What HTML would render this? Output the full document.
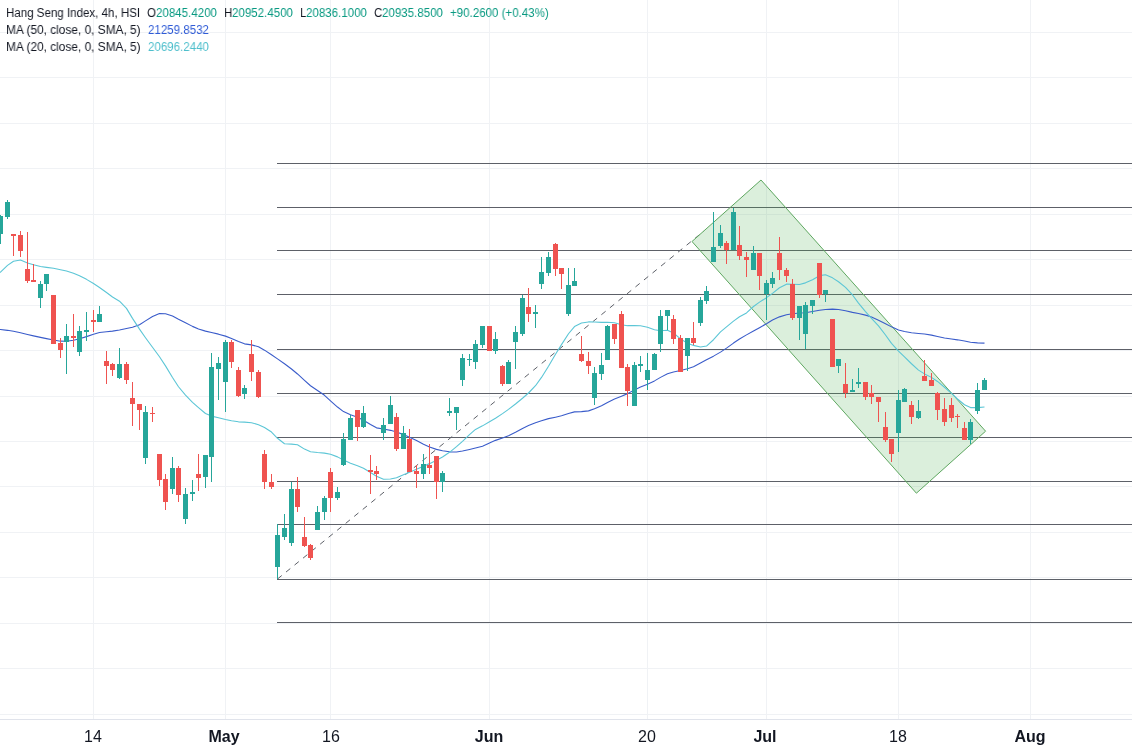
<!DOCTYPE html>
<html><head><meta charset="utf-8">
<style>
html,body{margin:0;padding:0;background:#fff;width:1132px;height:754px;overflow:hidden;position:relative;}
#c{position:absolute;left:0;top:0;}
.t{position:absolute;font-family:"Liberation Sans",sans-serif;white-space:pre;line-height:1;will-change:transform;}
.h{font-size:12.5px;transform:scaleX(0.923);transform-origin:0 0;}
.ax{font-size:16px;color:#131722;top:729px;transform:translateX(-50%) scaleY(1.0);transform-origin:50% 100%;}
</style></head><body>
<svg id="c" width="1132" height="754">
<g shape-rendering="crispEdges">
<rect x="0" y="32" width="1132" height="1" fill="#f0f2f5"/>
<rect x="0" y="77" width="1132" height="1" fill="#f0f2f5"/>
<rect x="0" y="123" width="1132" height="1" fill="#f0f2f5"/>
<rect x="0" y="168" width="1132" height="1" fill="#f0f2f5"/>
<rect x="0" y="214" width="1132" height="1" fill="#f0f2f5"/>
<rect x="0" y="259" width="1132" height="1" fill="#f0f2f5"/>
<rect x="0" y="305" width="1132" height="1" fill="#f0f2f5"/>
<rect x="0" y="350" width="1132" height="1" fill="#f0f2f5"/>
<rect x="0" y="396" width="1132" height="1" fill="#f0f2f5"/>
<rect x="0" y="441" width="1132" height="1" fill="#f0f2f5"/>
<rect x="0" y="486" width="1132" height="1" fill="#f0f2f5"/>
<rect x="0" y="532" width="1132" height="1" fill="#f0f2f5"/>
<rect x="0" y="577" width="1132" height="1" fill="#f0f2f5"/>
<rect x="0" y="623" width="1132" height="1" fill="#f0f2f5"/>
<rect x="0" y="668" width="1132" height="1" fill="#f0f2f5"/>
<rect x="0" y="714" width="1132" height="1" fill="#f0f2f5"/>
<rect x="93" y="0" width="1" height="719" fill="#f0f2f5"/>
<rect x="225" y="0" width="1" height="719" fill="#f0f2f5"/>
<rect x="330" y="0" width="1" height="719" fill="#f0f2f5"/>
<rect x="489" y="0" width="1" height="719" fill="#f0f2f5"/>
<rect x="647" y="0" width="1" height="719" fill="#f0f2f5"/>
<rect x="766" y="0" width="1" height="719" fill="#f0f2f5"/>
<rect x="898" y="0" width="1" height="719" fill="#f0f2f5"/>
<rect x="1030" y="0" width="1" height="719" fill="#f0f2f5"/>
</g>
<g shape-rendering="crispEdges">
<rect x="277" y="163" width="855" height="1" fill="#5d6068"/>
<rect x="277" y="207" width="855" height="1" fill="#5d6068"/>
<rect x="277" y="250" width="855" height="1" fill="#5d6068"/>
<rect x="277" y="294" width="855" height="1" fill="#5d6068"/>
<rect x="277" y="349" width="855" height="1" fill="#5d6068"/>
<rect x="277" y="393" width="855" height="1" fill="#5d6068"/>
<rect x="277" y="437" width="855" height="1" fill="#5d6068"/>
<rect x="277" y="481" width="855" height="1" fill="#5d6068"/>
<rect x="277" y="524" width="855" height="1" fill="#5d6068"/>
<rect x="277" y="579" width="855" height="1" fill="#5d6068"/>
<rect x="277" y="622" width="855" height="1" fill="#5d6068"/>
<rect x="277" y="524" width="1" height="55" fill="#5d6068"/>
</g>
<line x1="277.5" y1="579" x2="704" y2="231" stroke="#5d6068" stroke-width="1" stroke-dasharray="5.5 5.5"/>
<polygon points="761,180 692,241.5 916.4,493.2 985.6,431.2" fill="rgba(76,175,80,0.2)" stroke="#5ea760" stroke-width="1"/>
<polyline fill="none" stroke="#3a5cca" stroke-width="1.1" stroke-linejoin="round" points="0.0,329.50 0.5,329.56 7.5,330.33 13.5,331.25 20.5,332.80 27.5,334.51 33.5,335.87 40.5,337.39 46.5,338.63 53.5,339.98 60.5,341.17 66.5,341.32 73.5,340.27 79.5,338.80 86.5,336.64 93.5,334.32 99.5,332.51 106.5,331.79 112.5,331.13 119.5,329.92 126.5,328.49 132.5,327.23 139.5,324.68 145.5,320.85 152.5,316.56 159.5,313.52 165.5,313.77 172.5,315.99 178.5,319.22 185.5,322.74 192.5,326.37 198.5,328.93 205.5,331.14 211.5,332.59 218.5,334.16 225.5,336.13 231.5,338.49 238.5,341.55 244.5,343.84 251.5,344.90 258.5,346.73 264.5,350.15 271.5,354.76 277.5,358.85 284.5,363.75 291.5,368.96 297.5,373.96 304.5,380.31 310.5,385.74 317.5,390.53 324.5,395.30 330.5,400.82 337.5,407.06 343.5,411.60 350.5,414.81 357.5,417.15 363.5,420.28 370.5,424.49 376.5,427.85 383.5,428.93 390.5,430.34 396.5,432.08 403.5,434.61 409.5,437.18 416.5,440.55 423.5,444.22 429.5,446.97 436.5,449.36 442.5,450.78 449.5,451.83 456.5,452.01 462.5,451.05 469.5,449.44 475.5,447.95 482.5,446.21 489.5,443.04 495.5,440.36 502.5,437.90 508.5,435.76 515.5,432.33 522.5,428.46 528.5,425.43 535.5,422.65 541.5,420.67 548.5,418.61 555.5,417.17 561.5,415.83 568.5,413.49 574.5,411.90 581.5,411.64 588.5,410.86 594.5,408.78 601.5,405.73 607.5,402.54 614.5,398.98 621.5,396.17 627.5,393.63 634.5,390.10 640.5,387.10 647.5,384.17 654.5,380.90 660.5,377.37 667.5,373.73 673.5,372.01 680.5,370.50 687.5,368.81 693.5,366.68 700.5,363.08 706.5,359.85 713.5,356.14 720.5,352.14 726.5,348.16 733.5,343.07 739.5,338.98 746.5,334.88 753.5,331.04 759.5,327.67 766.5,323.69 772.5,320.00 779.5,316.85 786.5,314.82 792.5,313.78 799.5,313.04 805.5,312.79 812.5,311.57 819.5,310.29 825.5,309.48 832.5,309.16 838.5,309.44 845.5,310.73 852.5,312.36 858.5,313.46 865.5,315.14 871.5,317.06 878.5,320.30 885.5,323.79 891.5,326.87 898.5,329.91 904.5,331.58 911.5,332.76 918.5,333.47 924.5,334.04 931.5,335.12 937.5,336.55 944.5,338.06 951.5,339.06 957.5,339.83 964.5,340.97 970.5,342.27 977.5,342.86 984.5,343.15"/>
<polyline fill="none" stroke="#5cc6d6" stroke-width="1.1" stroke-linejoin="round" points="0.0,272.60 0.5,272.10 7.5,265.38 13.5,261.20 20.5,260.00 27.5,262.93 33.5,264.75 40.5,266.44 46.5,267.36 53.5,268.31 60.5,269.67 66.5,271.07 73.5,273.23 79.5,275.73 86.5,279.36 93.5,283.55 99.5,287.46 106.5,292.48 112.5,296.99 119.5,301.22 126.5,308.40 132.5,318.36 139.5,329.16 145.5,337.73 152.5,347.30 159.5,356.75 165.5,365.86 172.5,377.45 178.5,386.75 185.5,395.10 192.5,402.40 198.5,407.60 205.5,413.47 211.5,416.10 218.5,417.71 225.5,419.47 231.5,420.80 238.5,421.83 244.5,422.12 251.5,422.72 258.5,424.70 264.5,427.54 271.5,432.07 277.5,438.27 284.5,443.77 291.5,444.15 297.5,444.75 304.5,449.10 310.5,451.80 317.5,452.56 324.5,453.10 330.5,454.33 337.5,456.88 343.5,460.04 350.5,463.16 357.5,465.75 363.5,468.34 370.5,472.41 376.5,476.17 383.5,479.24 390.5,479.06 396.5,477.69 403.5,474.79 409.5,472.22 416.5,469.22 423.5,466.18 429.5,463.63 436.5,460.30 442.5,456.93 449.5,452.32 456.5,446.68 462.5,441.29 469.5,434.64 475.5,429.43 482.5,425.86 489.5,421.85 495.5,418.25 502.5,413.63 508.5,409.35 515.5,404.00 522.5,398.24 528.5,393.00 535.5,385.74 541.5,377.43 548.5,366.25 555.5,354.33 561.5,344.66 568.5,333.73 574.5,326.53 581.5,323.00 588.5,321.92 594.5,321.98 601.5,322.40 607.5,322.21 614.5,322.68 621.5,324.75 627.5,325.67 634.5,325.43 640.5,325.69 647.5,327.17 654.5,329.72 660.5,330.79 667.5,330.24 673.5,333.04 680.5,338.88 687.5,343.18 693.5,345.40 700.5,347.03 706.5,346.07 713.5,339.72 720.5,331.94 726.5,326.91 733.5,321.17 739.5,316.80 746.5,312.95 753.5,306.53 759.5,302.14 766.5,297.67 772.5,293.35 779.5,287.78 786.5,284.16 792.5,284.24 799.5,284.55 805.5,282.87 812.5,279.65 819.5,275.65 825.5,274.79 832.5,277.87 838.5,281.74 845.5,287.44 852.5,294.97 858.5,303.06 865.5,311.58 871.5,318.42 878.5,325.86 885.5,334.97 891.5,343.33 898.5,351.13 904.5,356.80 911.5,363.76 918.5,370.11 924.5,373.91 931.5,377.38 937.5,381.44 944.5,387.22 951.5,393.36 957.5,399.01 964.5,404.72 970.5,407.58 977.5,407.62 984.5,407.00"/>
<g shape-rendering="crispEdges">
<rect x="0" y="215" width="1" height="29" fill="#26a69a"/>
<rect x="-2" y="216" width="5" height="18" fill="#26a69a"/>
<rect x="7" y="200" width="1" height="19" fill="#26a69a"/>
<rect x="5" y="202" width="5" height="15" fill="#26a69a"/>
<rect x="13" y="234" width="1" height="22" fill="#ef5350"/>
<rect x="11" y="234" width="5" height="2" fill="#ef5350"/>
<rect x="20" y="231" width="1" height="26" fill="#ef5350"/>
<rect x="18" y="235" width="5" height="16" fill="#ef5350"/>
<rect x="27" y="232" width="1" height="51" fill="#ef5350"/>
<rect x="25" y="269" width="5" height="12" fill="#ef5350"/>
<rect x="33" y="264" width="1" height="18" fill="#ef5350"/>
<rect x="31" y="280" width="5" height="2" fill="#ef5350"/>
<rect x="40" y="281" width="1" height="27" fill="#26a69a"/>
<rect x="38" y="284" width="5" height="14" fill="#26a69a"/>
<rect x="46" y="274" width="1" height="17" fill="#26a69a"/>
<rect x="44" y="274" width="5" height="10" fill="#26a69a"/>
<rect x="53" y="295" width="1" height="49" fill="#ef5350"/>
<rect x="51" y="295" width="5" height="49" fill="#ef5350"/>
<rect x="60" y="338" width="1" height="20" fill="#ef5350"/>
<rect x="58" y="343" width="5" height="7" fill="#ef5350"/>
<rect x="66" y="324" width="1" height="50" fill="#26a69a"/>
<rect x="64" y="336" width="5" height="6" fill="#26a69a"/>
<rect x="73" y="314" width="1" height="33" fill="#ef5350"/>
<rect x="71" y="336" width="5" height="2" fill="#ef5350"/>
<rect x="79" y="326" width="1" height="30" fill="#26a69a"/>
<rect x="77" y="331" width="5" height="21" fill="#26a69a"/>
<rect x="86" y="312" width="1" height="29" fill="#26a69a"/>
<rect x="84" y="330" width="5" height="2" fill="#26a69a"/>
<rect x="93" y="310" width="1" height="22" fill="#ef5350"/>
<rect x="91" y="320" width="5" height="2" fill="#ef5350"/>
<rect x="99" y="306" width="1" height="16" fill="#26a69a"/>
<rect x="97" y="314" width="5" height="8" fill="#26a69a"/>
<rect x="106" y="351" width="1" height="33" fill="#ef5350"/>
<rect x="104" y="361" width="5" height="5" fill="#ef5350"/>
<rect x="112" y="363" width="1" height="13" fill="#ef5350"/>
<rect x="110" y="364" width="5" height="6" fill="#ef5350"/>
<rect x="119" y="348" width="1" height="31" fill="#26a69a"/>
<rect x="117" y="364" width="5" height="14" fill="#26a69a"/>
<rect x="126" y="362" width="1" height="22" fill="#ef5350"/>
<rect x="124" y="364" width="5" height="16" fill="#ef5350"/>
<rect x="132" y="382" width="1" height="44" fill="#ef5350"/>
<rect x="130" y="398" width="5" height="6" fill="#ef5350"/>
<rect x="139" y="404" width="1" height="26" fill="#ef5350"/>
<rect x="137" y="404" width="5" height="6" fill="#ef5350"/>
<rect x="145" y="406" width="1" height="58" fill="#26a69a"/>
<rect x="143" y="412" width="5" height="46" fill="#26a69a"/>
<rect x="152" y="407" width="1" height="15" fill="#ef5350"/>
<rect x="150" y="413" width="5" height="1" fill="#ef5350"/>
<rect x="159" y="454" width="1" height="32" fill="#ef5350"/>
<rect x="157" y="454" width="5" height="26" fill="#ef5350"/>
<rect x="165" y="474" width="1" height="36" fill="#ef5350"/>
<rect x="163" y="479" width="5" height="23" fill="#ef5350"/>
<rect x="172" y="457" width="1" height="37" fill="#26a69a"/>
<rect x="170" y="468" width="5" height="21" fill="#26a69a"/>
<rect x="178" y="466" width="1" height="36" fill="#ef5350"/>
<rect x="176" y="468" width="5" height="27" fill="#ef5350"/>
<rect x="185" y="488" width="1" height="36" fill="#26a69a"/>
<rect x="183" y="494" width="5" height="25" fill="#26a69a"/>
<rect x="192" y="480" width="1" height="21" fill="#26a69a"/>
<rect x="190" y="492" width="5" height="2" fill="#26a69a"/>
<rect x="198" y="454" width="1" height="37" fill="#ef5350"/>
<rect x="196" y="474" width="5" height="4" fill="#ef5350"/>
<rect x="205" y="455" width="1" height="33" fill="#26a69a"/>
<rect x="203" y="455" width="5" height="22" fill="#26a69a"/>
<rect x="211" y="353" width="1" height="129" fill="#26a69a"/>
<rect x="209" y="367" width="5" height="90" fill="#26a69a"/>
<rect x="218" y="357" width="1" height="43" fill="#26a69a"/>
<rect x="216" y="363" width="5" height="6" fill="#26a69a"/>
<rect x="225" y="340" width="1" height="72" fill="#26a69a"/>
<rect x="223" y="342" width="5" height="40" fill="#26a69a"/>
<rect x="231" y="340" width="1" height="28" fill="#ef5350"/>
<rect x="229" y="342" width="5" height="20" fill="#ef5350"/>
<rect x="238" y="367" width="1" height="30" fill="#ef5350"/>
<rect x="236" y="370" width="5" height="26" fill="#ef5350"/>
<rect x="244" y="385" width="1" height="14" fill="#26a69a"/>
<rect x="242" y="388" width="5" height="6" fill="#26a69a"/>
<rect x="251" y="340" width="1" height="41" fill="#ef5350"/>
<rect x="249" y="354" width="5" height="18" fill="#ef5350"/>
<rect x="258" y="370" width="1" height="28" fill="#ef5350"/>
<rect x="256" y="372" width="5" height="25" fill="#ef5350"/>
<rect x="264" y="450" width="1" height="39" fill="#ef5350"/>
<rect x="262" y="454" width="5" height="28" fill="#ef5350"/>
<rect x="271" y="474" width="1" height="15" fill="#ef5350"/>
<rect x="269" y="482" width="5" height="5" fill="#ef5350"/>
<rect x="277" y="524" width="1" height="55" fill="#26a69a"/>
<rect x="275" y="535" width="5" height="32" fill="#26a69a"/>
<rect x="284" y="514" width="1" height="26" fill="#26a69a"/>
<rect x="282" y="528" width="5" height="9" fill="#26a69a"/>
<rect x="291" y="482" width="1" height="64" fill="#26a69a"/>
<rect x="289" y="489" width="5" height="54" fill="#26a69a"/>
<rect x="297" y="477" width="1" height="35" fill="#ef5350"/>
<rect x="295" y="489" width="5" height="18" fill="#ef5350"/>
<rect x="304" y="517" width="1" height="30" fill="#ef5350"/>
<rect x="302" y="537" width="5" height="9" fill="#ef5350"/>
<rect x="310" y="544" width="1" height="16" fill="#ef5350"/>
<rect x="308" y="545" width="5" height="13" fill="#ef5350"/>
<rect x="317" y="506" width="1" height="24" fill="#26a69a"/>
<rect x="315" y="512" width="5" height="18" fill="#26a69a"/>
<rect x="324" y="496" width="1" height="24" fill="#26a69a"/>
<rect x="322" y="498" width="5" height="14" fill="#26a69a"/>
<rect x="330" y="468" width="1" height="44" fill="#ef5350"/>
<rect x="328" y="472" width="5" height="26" fill="#ef5350"/>
<rect x="337" y="487" width="1" height="13" fill="#26a69a"/>
<rect x="335" y="492" width="5" height="6" fill="#26a69a"/>
<rect x="343" y="433" width="1" height="33" fill="#26a69a"/>
<rect x="341" y="439" width="5" height="26" fill="#26a69a"/>
<rect x="350" y="415" width="1" height="25" fill="#26a69a"/>
<rect x="348" y="418" width="5" height="22" fill="#26a69a"/>
<rect x="357" y="410" width="1" height="31" fill="#ef5350"/>
<rect x="355" y="410" width="5" height="17" fill="#ef5350"/>
<rect x="363" y="406" width="1" height="22" fill="#26a69a"/>
<rect x="361" y="413" width="5" height="14" fill="#26a69a"/>
<rect x="370" y="455" width="1" height="39" fill="#ef5350"/>
<rect x="368" y="470" width="5" height="2" fill="#ef5350"/>
<rect x="376" y="466" width="1" height="14" fill="#ef5350"/>
<rect x="374" y="471" width="5" height="3" fill="#ef5350"/>
<rect x="383" y="418" width="1" height="22" fill="#26a69a"/>
<rect x="381" y="425" width="5" height="8" fill="#26a69a"/>
<rect x="390" y="396" width="1" height="28" fill="#26a69a"/>
<rect x="388" y="405" width="5" height="19" fill="#26a69a"/>
<rect x="396" y="413" width="1" height="38" fill="#ef5350"/>
<rect x="394" y="417" width="5" height="32" fill="#ef5350"/>
<rect x="403" y="426" width="1" height="23" fill="#26a69a"/>
<rect x="401" y="433" width="5" height="16" fill="#26a69a"/>
<rect x="409" y="429" width="1" height="43" fill="#ef5350"/>
<rect x="407" y="439" width="5" height="33" fill="#ef5350"/>
<rect x="416" y="465" width="1" height="23" fill="#ef5350"/>
<rect x="414" y="471" width="5" height="3" fill="#ef5350"/>
<rect x="423" y="454" width="1" height="25" fill="#26a69a"/>
<rect x="421" y="464" width="5" height="10" fill="#26a69a"/>
<rect x="429" y="444" width="1" height="30" fill="#ef5350"/>
<rect x="427" y="465" width="5" height="3" fill="#ef5350"/>
<rect x="436" y="456" width="1" height="43" fill="#ef5350"/>
<rect x="434" y="456" width="5" height="26" fill="#ef5350"/>
<rect x="442" y="471" width="1" height="21" fill="#26a69a"/>
<rect x="440" y="473" width="5" height="9" fill="#26a69a"/>
<rect x="449" y="398" width="1" height="18" fill="#26a69a"/>
<rect x="447" y="411" width="5" height="2" fill="#26a69a"/>
<rect x="456" y="407" width="1" height="23" fill="#26a69a"/>
<rect x="454" y="407" width="5" height="6" fill="#26a69a"/>
<rect x="462" y="354" width="1" height="32" fill="#26a69a"/>
<rect x="460" y="358" width="5" height="22" fill="#26a69a"/>
<rect x="469" y="354" width="1" height="12" fill="#26a69a"/>
<rect x="467" y="359" width="5" height="1" fill="#26a69a"/>
<rect x="475" y="340" width="1" height="29" fill="#26a69a"/>
<rect x="473" y="344" width="5" height="18" fill="#26a69a"/>
<rect x="482" y="326" width="1" height="22" fill="#26a69a"/>
<rect x="480" y="326" width="5" height="19" fill="#26a69a"/>
<rect x="489" y="326" width="1" height="25" fill="#ef5350"/>
<rect x="487" y="326" width="5" height="25" fill="#ef5350"/>
<rect x="495" y="332" width="1" height="22" fill="#26a69a"/>
<rect x="493" y="339" width="5" height="12" fill="#26a69a"/>
<rect x="502" y="365" width="1" height="21" fill="#ef5350"/>
<rect x="500" y="366" width="5" height="18" fill="#ef5350"/>
<rect x="508" y="360" width="1" height="24" fill="#26a69a"/>
<rect x="506" y="362" width="5" height="22" fill="#26a69a"/>
<rect x="515" y="326" width="1" height="43" fill="#26a69a"/>
<rect x="513" y="332" width="5" height="10" fill="#26a69a"/>
<rect x="522" y="295" width="1" height="41" fill="#26a69a"/>
<rect x="520" y="298" width="5" height="36" fill="#26a69a"/>
<rect x="528" y="288" width="1" height="34" fill="#ef5350"/>
<rect x="526" y="307" width="5" height="7" fill="#ef5350"/>
<rect x="535" y="305" width="1" height="23" fill="#26a69a"/>
<rect x="533" y="312" width="5" height="2" fill="#26a69a"/>
<rect x="541" y="257" width="1" height="32" fill="#26a69a"/>
<rect x="539" y="272" width="5" height="12" fill="#26a69a"/>
<rect x="548" y="252" width="1" height="24" fill="#26a69a"/>
<rect x="546" y="257" width="5" height="16" fill="#26a69a"/>
<rect x="555" y="243" width="1" height="33" fill="#ef5350"/>
<rect x="553" y="244" width="5" height="25" fill="#ef5350"/>
<rect x="561" y="268" width="1" height="21" fill="#ef5350"/>
<rect x="559" y="268" width="5" height="6" fill="#ef5350"/>
<rect x="568" y="268" width="1" height="48" fill="#26a69a"/>
<rect x="566" y="285" width="5" height="29" fill="#26a69a"/>
<rect x="574" y="268" width="1" height="18" fill="#26a69a"/>
<rect x="572" y="281" width="5" height="5" fill="#26a69a"/>
<rect x="581" y="336" width="1" height="26" fill="#ef5350"/>
<rect x="579" y="354" width="5" height="7" fill="#ef5350"/>
<rect x="588" y="352" width="1" height="22" fill="#ef5350"/>
<rect x="586" y="361" width="5" height="5" fill="#ef5350"/>
<rect x="594" y="367" width="1" height="38" fill="#26a69a"/>
<rect x="592" y="373" width="5" height="25" fill="#26a69a"/>
<rect x="601" y="353" width="1" height="27" fill="#26a69a"/>
<rect x="599" y="365" width="5" height="9" fill="#26a69a"/>
<rect x="607" y="325" width="1" height="35" fill="#26a69a"/>
<rect x="605" y="326" width="5" height="34" fill="#26a69a"/>
<rect x="614" y="324" width="1" height="20" fill="#ef5350"/>
<rect x="612" y="324" width="5" height="15" fill="#ef5350"/>
<rect x="621" y="311" width="1" height="57" fill="#ef5350"/>
<rect x="619" y="314" width="5" height="54" fill="#ef5350"/>
<rect x="627" y="364" width="1" height="42" fill="#ef5350"/>
<rect x="625" y="367" width="5" height="24" fill="#ef5350"/>
<rect x="634" y="362" width="1" height="44" fill="#26a69a"/>
<rect x="632" y="365" width="5" height="41" fill="#26a69a"/>
<rect x="640" y="356" width="1" height="16" fill="#26a69a"/>
<rect x="638" y="364" width="5" height="2" fill="#26a69a"/>
<rect x="647" y="353" width="1" height="37" fill="#26a69a"/>
<rect x="645" y="370" width="5" height="10" fill="#26a69a"/>
<rect x="654" y="353" width="1" height="17" fill="#26a69a"/>
<rect x="652" y="354" width="5" height="16" fill="#26a69a"/>
<rect x="660" y="310" width="1" height="42" fill="#26a69a"/>
<rect x="658" y="316" width="5" height="28" fill="#26a69a"/>
<rect x="667" y="310" width="1" height="20" fill="#26a69a"/>
<rect x="665" y="310" width="5" height="6" fill="#26a69a"/>
<rect x="673" y="315" width="1" height="29" fill="#ef5350"/>
<rect x="671" y="319" width="5" height="20" fill="#ef5350"/>
<rect x="680" y="335" width="1" height="37" fill="#ef5350"/>
<rect x="678" y="338" width="5" height="34" fill="#ef5350"/>
<rect x="687" y="338" width="1" height="33" fill="#26a69a"/>
<rect x="685" y="338" width="5" height="18" fill="#26a69a"/>
<rect x="693" y="322" width="1" height="23" fill="#ef5350"/>
<rect x="691" y="338" width="5" height="5" fill="#ef5350"/>
<rect x="700" y="297" width="1" height="29" fill="#26a69a"/>
<rect x="698" y="300" width="5" height="23" fill="#26a69a"/>
<rect x="706" y="286" width="1" height="18" fill="#26a69a"/>
<rect x="704" y="291" width="5" height="10" fill="#26a69a"/>
<rect x="713" y="212" width="1" height="50" fill="#26a69a"/>
<rect x="711" y="247" width="5" height="15" fill="#26a69a"/>
<rect x="720" y="225" width="1" height="23" fill="#26a69a"/>
<rect x="718" y="233" width="5" height="13" fill="#26a69a"/>
<rect x="726" y="241" width="1" height="23" fill="#ef5350"/>
<rect x="724" y="243" width="5" height="7" fill="#ef5350"/>
<rect x="733" y="208" width="1" height="42" fill="#26a69a"/>
<rect x="731" y="212" width="5" height="38" fill="#26a69a"/>
<rect x="739" y="226" width="1" height="34" fill="#ef5350"/>
<rect x="737" y="245" width="5" height="11" fill="#ef5350"/>
<rect x="746" y="252" width="1" height="25" fill="#ef5350"/>
<rect x="744" y="257" width="5" height="3" fill="#ef5350"/>
<rect x="753" y="246" width="1" height="24" fill="#26a69a"/>
<rect x="751" y="253" width="5" height="17" fill="#26a69a"/>
<rect x="759" y="253" width="1" height="37" fill="#ef5350"/>
<rect x="757" y="253" width="5" height="23" fill="#ef5350"/>
<rect x="766" y="280" width="1" height="40" fill="#26a69a"/>
<rect x="764" y="283" width="5" height="11" fill="#26a69a"/>
<rect x="772" y="272" width="1" height="16" fill="#26a69a"/>
<rect x="770" y="278" width="5" height="6" fill="#26a69a"/>
<rect x="779" y="237" width="1" height="43" fill="#ef5350"/>
<rect x="777" y="253" width="5" height="17" fill="#ef5350"/>
<rect x="786" y="268" width="1" height="14" fill="#ef5350"/>
<rect x="784" y="270" width="5" height="6" fill="#ef5350"/>
<rect x="792" y="279" width="1" height="41" fill="#ef5350"/>
<rect x="790" y="284" width="5" height="34" fill="#ef5350"/>
<rect x="799" y="306" width="1" height="34" fill="#26a69a"/>
<rect x="797" y="306" width="5" height="12" fill="#26a69a"/>
<rect x="805" y="302" width="1" height="47" fill="#26a69a"/>
<rect x="803" y="305" width="5" height="29" fill="#26a69a"/>
<rect x="812" y="300" width="1" height="14" fill="#26a69a"/>
<rect x="810" y="300" width="5" height="6" fill="#26a69a"/>
<rect x="819" y="263" width="1" height="35" fill="#ef5350"/>
<rect x="817" y="263" width="5" height="32" fill="#ef5350"/>
<rect x="825" y="290" width="1" height="12" fill="#26a69a"/>
<rect x="823" y="290" width="5" height="4" fill="#26a69a"/>
<rect x="832" y="319" width="1" height="48" fill="#ef5350"/>
<rect x="830" y="319" width="5" height="48" fill="#ef5350"/>
<rect x="838" y="359" width="1" height="14" fill="#26a69a"/>
<rect x="836" y="359" width="5" height="7" fill="#26a69a"/>
<rect x="845" y="363" width="1" height="35" fill="#ef5350"/>
<rect x="843" y="384" width="5" height="9" fill="#ef5350"/>
<rect x="852" y="379" width="1" height="13" fill="#26a69a"/>
<rect x="850" y="390" width="5" height="2" fill="#26a69a"/>
<rect x="858" y="368" width="1" height="20" fill="#26a69a"/>
<rect x="856" y="382" width="5" height="2" fill="#26a69a"/>
<rect x="865" y="382" width="1" height="18" fill="#ef5350"/>
<rect x="863" y="382" width="5" height="15" fill="#ef5350"/>
<rect x="871" y="385" width="1" height="19" fill="#ef5350"/>
<rect x="869" y="393" width="5" height="4" fill="#ef5350"/>
<rect x="878" y="397" width="1" height="25" fill="#ef5350"/>
<rect x="876" y="397" width="5" height="5" fill="#ef5350"/>
<rect x="885" y="412" width="1" height="30" fill="#ef5350"/>
<rect x="883" y="427" width="5" height="13" fill="#ef5350"/>
<rect x="891" y="439" width="1" height="23" fill="#ef5350"/>
<rect x="889" y="439" width="5" height="15" fill="#ef5350"/>
<rect x="898" y="390" width="1" height="62" fill="#26a69a"/>
<rect x="896" y="400" width="5" height="33" fill="#26a69a"/>
<rect x="904" y="388" width="1" height="14" fill="#26a69a"/>
<rect x="902" y="389" width="5" height="13" fill="#26a69a"/>
<rect x="911" y="401" width="1" height="23" fill="#ef5350"/>
<rect x="909" y="405" width="5" height="12" fill="#ef5350"/>
<rect x="918" y="400" width="1" height="19" fill="#26a69a"/>
<rect x="916" y="411" width="5" height="7" fill="#26a69a"/>
<rect x="924" y="360" width="1" height="21" fill="#ef5350"/>
<rect x="922" y="376" width="5" height="5" fill="#ef5350"/>
<rect x="931" y="373" width="1" height="13" fill="#ef5350"/>
<rect x="929" y="380" width="5" height="6" fill="#ef5350"/>
<rect x="937" y="392" width="1" height="28" fill="#ef5350"/>
<rect x="935" y="393" width="5" height="17" fill="#ef5350"/>
<rect x="944" y="398" width="1" height="28" fill="#ef5350"/>
<rect x="942" y="409" width="5" height="13" fill="#ef5350"/>
<rect x="951" y="398" width="1" height="24" fill="#ef5350"/>
<rect x="949" y="405" width="5" height="13" fill="#ef5350"/>
<rect x="957" y="414" width="1" height="14" fill="#ef5350"/>
<rect x="955" y="416" width="5" height="1" fill="#ef5350"/>
<rect x="964" y="422" width="1" height="18" fill="#ef5350"/>
<rect x="962" y="428" width="5" height="12" fill="#ef5350"/>
<rect x="970" y="419" width="1" height="25" fill="#26a69a"/>
<rect x="968" y="422" width="5" height="18" fill="#26a69a"/>
<rect x="977" y="383" width="1" height="31" fill="#26a69a"/>
<rect x="975" y="390" width="5" height="21" fill="#26a69a"/>
<rect x="984" y="378" width="1" height="12" fill="#26a69a"/>
<rect x="982" y="380" width="5" height="10" fill="#26a69a"/>
<rect x="0" y="719" width="1132" height="1" fill="#e0e3eb"/>
</g>
</svg>
<div class="t h" style="left:6.3px;top:7px;color:#131722;">Hang Seng Index, 4h, HSI</div>
<div class="t h" style="left:147.1px;top:7px;color:#131722;">O</div>
<div class="t h" style="left:155.75px;top:7px;color:#089981;">20845.4200</div>
<div class="t h" style="left:224px;top:7px;color:#131722;">H</div>
<div class="t h" style="left:231.9px;top:7px;color:#089981;">20952.4500</div>
<div class="t h" style="left:300px;top:7px;color:#131722;">L</div>
<div class="t h" style="left:306.2px;top:7px;color:#089981;">20836.1000</div>
<div class="t h" style="left:374.2px;top:7px;color:#131722;">C</div>
<div class="t h" style="left:381.5px;top:7px;color:#089981;">20935.8500</div>
<div class="t h" style="left:449.9px;top:7px;color:#089981;">+90.2600 (+0.43%)</div>
<div class="t h" style="left:6.3px;top:24px;color:#131722;transform:scaleX(0.95);">MA (50, close, 0, SMA, 5)</div>
<div class="t h" style="left:147.8px;top:24px;color:#2f5bd6;">21259.8532</div>
<div class="t h" style="left:6.3px;top:41px;color:#131722;transform:scaleX(0.95);">MA (20, close, 0, SMA, 5)</div>
<div class="t h" style="left:147.8px;top:41px;color:#4fbfcc;">20696.2440</div>
<div class="t ax" style="left:92.9px;font-weight:normal">14</div>
<div class="t ax" style="left:224.3px;font-weight:bold">May</div>
<div class="t ax" style="left:330.5px;font-weight:normal">16</div>
<div class="t ax" style="left:488.5px;font-weight:bold">Jun</div>
<div class="t ax" style="left:646.9px;font-weight:normal">20</div>
<div class="t ax" style="left:765.45px;font-weight:bold">Jul</div>
<div class="t ax" style="left:897.6px;font-weight:normal">18</div>
<div class="t ax" style="left:1029.75px;font-weight:bold">Aug</div>
</body></html>
